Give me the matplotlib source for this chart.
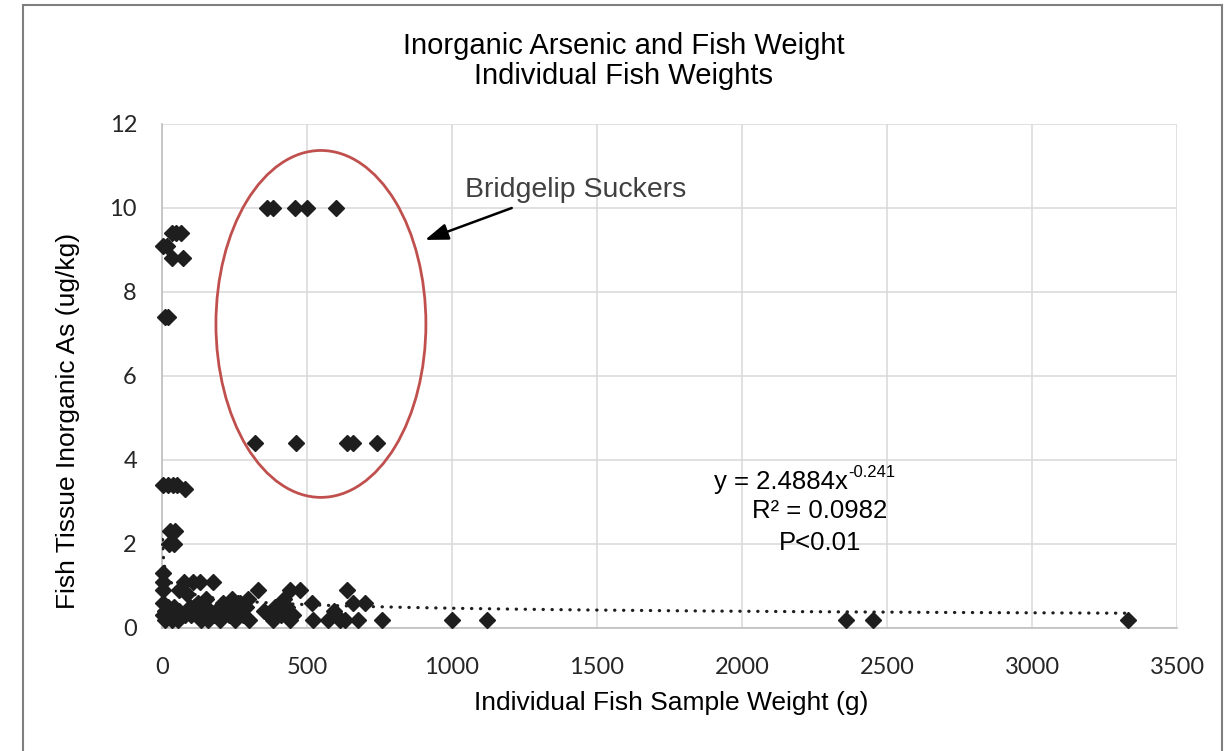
import matplotlib
matplotlib.use("Agg")
import matplotlib.pyplot as plt
from matplotlib.patches import Ellipse, Rectangle
import numpy as np

# ---- data ----
fish_weight_g = [
    # high values near zero weight
    3, 18, 33, 48, 66, 33, 71, 12, 20,
    2, 20, 38, 52, 79, 28, 45, 25, 40,
    # Bridgelip suckers
    361, 384, 459, 499, 600,
    321, 461, 639, 660, 741,
    # low cluster
    5, 2, 77, 106, 131, 177,
    5, 60, 85,
    5, 20, 40, 95, 10, 30, 60, 5, 25, 45, 70, 80, 100, 10, 35, 55,
    125, 153, 205, 240, 268, 297, 120, 140, 160, 180, 200, 220, 230, 250,
    270, 280, 300, 135, 230, 290, 210, 262, 185, 150, 110,
    332, 413, 441, 476, 516, 637, 660, 700,
    350, 370, 383, 400, 410, 430, 440, 452, 390, 420,
    521, 573, 593, 600, 615, 631, 676, 757,
    1001, 1120, 2360, 2450, 3330,
]
inorganic_as = [
    9.1, 9.1, 9.4, 9.4, 9.4, 8.8, 8.8, 7.4, 7.4,
    3.4, 3.4, 3.4, 3.4, 3.3, 2.3, 2.3, 2.0, 2.0,
    10.0, 10.0, 10.0, 10.0, 10.0,
    4.4, 4.4, 4.4, 4.4, 4.4,
    1.3, 1.1, 1.1, 1.1, 1.1, 1.1,
    0.9, 0.9, 0.8,
    0.6, 0.5, 0.5, 0.5, 0.4, 0.4, 0.4, 0.3, 0.3, 0.3, 0.3, 0.3, 0.3, 0.2, 0.2, 0.2,
    0.6, 0.7, 0.5, 0.7, 0.6, 0.7, 0.4, 0.3, 0.2, 0.3, 0.2, 0.4, 0.3, 0.2,
    0.4, 0.3, 0.2, 0.2, 0.5, 0.5, 0.6, 0.6, 0.4, 0.5, 0.5,
    0.9, 0.6, 0.9, 0.9, 0.6, 0.9, 0.6, 0.6,
    0.4, 0.3, 0.2, 0.4, 0.3, 0.5, 0.2, 0.3, 0.5, 0.7,
    0.2, 0.2, 0.4, 0.3, 0.2, 0.2, 0.2, 0.2,
    0.2, 0.2, 0.2, 0.2, 0.2,
]
trend_coef = 2.4884
trend_exp = -0.241
x_ticks = [0, 500, 1000, 1500, 2000, 2500, 3000, 3500]
y_ticks = [0, 2, 4, 6, 8, 10, 12]

title_text = "Inorganic Arsenic and Fish Weight\nIndividual Fish Weights"
xlabel_text = "Individual Fish Sample Weight (g)"
ylabel_text = "Fish Tissue Inorganic As (ug/kg)"

FONT = "Liberation Sans"
W, H = 1227, 751
fig = plt.figure(figsize=(W / 100, H / 100), dpi=100)
fig.patch.set_facecolor("white")

# chart border
fig.patches.append(Rectangle((23 / W, -0.05), (1222 - 23) / W, 1 - 5 / H + 0.05,
                             transform=fig.transFigure, fill=False,
                             edgecolor="#7f7f7f", lw=1.5, zorder=0))

ax = fig.add_axes([162 / W, (H - 628) / H, (1177 - 162) / W, (628 - 124) / H])
ax.set_xlim(0, 3500)
ax.set_ylim(0, 12)
ax.set_xticks(x_ticks)
ax.set_yticks(y_ticks)
ax.grid(True, color="#d9d9d9", lw=1.1, zorder=0)
for s in ["top", "right"]:
    ax.spines[s].set_visible(False)
for s in ["left", "bottom"]:
    ax.spines[s].set_color("#bfbfbf")
    ax.spines[s].set_linewidth(1.2)
ax.tick_params(length=0, labelsize=17, colors="#262626")
ax.tick_params(axis="x", pad=21)
ax.tick_params(axis="y", pad=18)
for lab in ax.get_xticklabels() + ax.get_yticklabels():
    lab.set_fontfamily("Lato")
ax.set_axisbelow(True)

# scatter
ax.plot(fish_weight_g, inorganic_as, linestyle="none", marker="D",
        markersize=8.3, color="#1e1e1e", zorder=3, clip_on=False)

# power trendline
xs = np.geomspace(min(fish_weight_g), max(fish_weight_g), 2000)
ax.plot(xs, trend_coef * xs ** trend_exp, color="#1e1e1e", lw=2.3,
        linestyle=(0, (0.1, 2.7)), dash_capstyle="round", zorder=4)

# ellipse around Bridgelip suckers
ax.add_patch(Ellipse((548, 7.24), 724, 8.26, fill=False,
                     edgecolor="#c0504d", lw=2.0, zorder=5))

# annotation
ax.text(1427, 10.43, "Bridgelip Suckers", fontsize=20.5, family=FONT,
        color="#404040", ha="center", va="center")
ax.annotate("", xy=(907, 9.24), xytext=(1206, 10.0),
            arrowprops=dict(arrowstyle="-|>,head_length=1.4,head_width=0.5",
                            color="black", lw=1.8, shrinkA=0, shrinkB=0))

# equation text
ax.text(2365, 3.48, "y = 2.4884x", fontsize=18.5, family=FONT,
        color="black", ha="right", va="center")
ax.text(2368, 3.70, "-0.241", fontsize=12, family=FONT,
        color="black", ha="left", va="center")
ax.text(2269, 2.79, "R² = 0.0982", fontsize=18.5, family=FONT,
        color="black", ha="center", va="center")
ax.text(2269, 2.02, "P<0.01", fontsize=18.5, family=FONT,
        color="black", ha="center", va="center")

# titles and labels
fig.text(624 / W, 1 - 61 / H, title_text, fontsize=21, family=FONT,
         color="black", ha="center", va="center", linespacing=1.1)
fig.text(671 / W, 1 - 703 / H, xlabel_text, fontsize=19, family=FONT,
         color="black", ha="center", va="center")
fig.text(68 / W, 1 - 421 / H, ylabel_text, fontsize=19, family=FONT,
         color="black", ha="center", va="center", rotation=90)

fig.savefig("out.png", dpi=100)
